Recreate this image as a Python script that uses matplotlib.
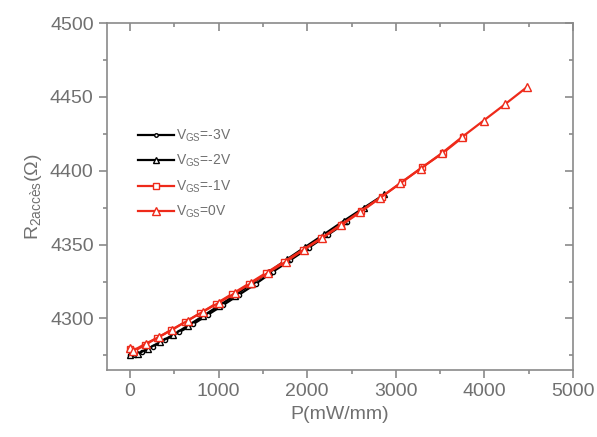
import matplotlib
matplotlib.use("Agg")
import matplotlib.pyplot as plt

# data
p_m3 = [0, 60, 140, 260, 400, 550, 710, 880, 1050, 1230, 1420, 1610, 1810, 2020, 2230, 2450]
r_m3 = [4275, 4275.5, 4277.5, 4281, 4285.5, 4290.5, 4296, 4302.5, 4309, 4316, 4323.5, 4331.5, 4339.5, 4348, 4356.5, 4365.5]

p_m2 = [0, 90, 200, 340, 490, 650, 820, 1000, 1180, 1370, 1570, 1770, 1980, 2190, 2410, 2640, 2870]
r_m2 = [4275, 4276, 4279.5, 4284, 4289, 4295, 4301.5, 4308.5, 4315.5, 4323.5, 4331.5, 4340, 4348.5, 4357, 4366, 4375, 4384]

p_m1 = [0, 50, 170, 310, 460, 620, 790, 970, 1150, 1340, 1540, 1740, 1950, 2160, 2380, 2610, 2840, 3070, 3300, 3530, 3760]
r_m1 = [4279, 4278, 4282, 4287, 4292, 4297.5, 4303.5, 4310, 4316.5, 4323.5, 4331, 4338.5, 4346.5, 4354.5, 4363.5, 4373, 4382.5, 4392.5, 4402.5, 4412, 4423]

p_0 = [0, 30, 180, 330, 480, 650, 820, 1000, 1180, 1370, 1560, 1760, 1960, 2170, 2380, 2600, 2820, 3050, 3280, 3520, 3750, 3990, 4230, 4475]
r_0 = [4280, 4278, 4283, 4287.5, 4292.5, 4298.5, 4304.5, 4310.5, 4317, 4324, 4331, 4338.5, 4346.5, 4354.5, 4363, 4372, 4381.5, 4391.5, 4401.5, 4412, 4423, 4434, 4445, 4456.5]

labels = [r"V$_{\mathregular{GS}}$=-3V", r"V$_{\mathregular{GS}}$=-2V",
          r"V$_{\mathregular{GS}}$=-1V", r"V$_{\mathregular{GS}}$=0V"]

plt.rcParams['font.family'] = ['Liberation Sans', 'DejaVu Sans']
plt.rcParams['mathtext.fontset'] = 'custom'
plt.rcParams['mathtext.rm'] = 'Liberation Sans'
plt.rcParams['mathtext.it'] = 'Liberation Sans'

gray = '#8a8a8a'
tgray = '#707070'
red = '#ee2a1a'

fig = plt.figure(figsize=(5.97, 4.37), dpi=100)
ax = fig.add_axes([0.179, 0.153, 0.781, 0.794])

ax.plot(p_m3, r_m3, '-', color='black', lw=1.6, marker='o', ms=3, mfc='white', mec='black', label=labels[0])
ax.plot(p_m2, r_m2, '-', color='black', lw=1.6, marker='^', ms=5, mfc='white', mec='black', label=labels[1])
ax.plot(p_m1, r_m1, '-', color=red, lw=1.6, marker='s', ms=5, mfc='white', mec=red, label=labels[2])
ax.plot(p_0, r_0, '-', color=red, lw=1.6, marker='^', ms=6, mfc='white', mec=red, label=labels[3])

ax.set_xlim(-260, 5000)
ax.set_ylim(4265, 4500)
ax.set_xticks([0, 1000, 2000, 3000, 4000, 5000])
ax.set_xticks(range(500, 5000, 1000), minor=True)
ax.set_yticks([4300, 4350, 4400, 4450, 4500])
ax.set_yticks([4275, 4325, 4375, 4425, 4475], minor=True)

for s in ax.spines.values():
    s.set_color(gray)
    s.set_linewidth(1.2)
ax.tick_params(which='both', colors=gray, labelcolor=tgray, labelsize=14, width=1.2)
ax.tick_params(which='major', length=6)
ax.tick_params(which='minor', length=3)
ax.tick_params(which='both', top=True, right=True, direction='out')
# mirrored ticks on the top and right point inward
for t in ax.xaxis.get_major_ticks() + ax.xaxis.get_minor_ticks():
    t.tick2line.set_marker(3)
for t in ax.yaxis.get_major_ticks() + ax.yaxis.get_minor_ticks():
    t.tick2line.set_marker(0)

ax.set_xlabel("P(mW/mm)", fontsize=14, color=tgray)
ax.set_ylabel(r"R$_{\mathregular{2accès}}$($\Omega$)", fontsize=14, color=tgray)

leg = ax.legend(loc='upper left', bbox_to_anchor=(0.04, 0.735), frameon=False,
                fontsize=10, handlelength=2.6, labelspacing=0.65, numpoints=1,
                handletextpad=0.15, markerscale=0.85)
for t in leg.get_texts():
    t.set_color(tgray)

fig.savefig("out.png", dpi=100)
